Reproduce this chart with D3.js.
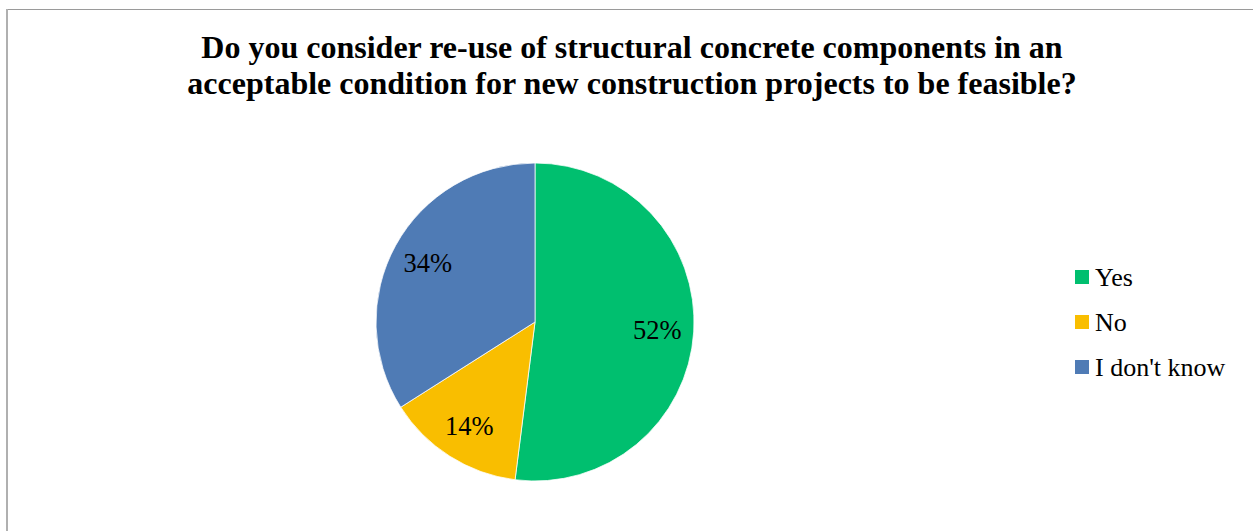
<!DOCTYPE html>
<html>
<head>
<meta charset="utf-8">
<script src="https://cdn.jsdelivr.net/npm/d3@7"></script>
<style>
  body { margin: 0; background: #fff; }
  svg { display: block; font-family: "Liberation Serif", "Times New Roman", serif; }
</style>
</head>
<body>
<div id="chart"></div>
<script>
// chart data
const titleLines = [
    'Do you consider re-use of structural concrete components in an',
    'acceptable condition for new construction projects to be feasible?'
];
const categories = ['Yes', 'No', "I don't know"];
const values = [52, 14, 34];
const colors = ['#00bf6f', '#f9be00', '#4f7bb5'];

const width = 1253;
const height = 531;

const svg = d3.select('#chart')
    .append('svg')
    .attr('width', width)
    .attr('height', height);

// chart area border (only top and left edges are inside the picture)
svg.append('line')
    .attr('x1', 7).attr('x2', width)
    .attr('y1', 9.5).attr('y2', 9.5)
    .attr('stroke', '#9a9a9a')
    .attr('stroke-width', 1);
svg.append('line')
    .attr('x1', 7).attr('x2', 7)
    .attr('y1', 9).attr('y2', height)
    .attr('stroke', '#b0b0b0')
    .attr('stroke-width', 2);

// title
svg.append('text')
    .attr('x', 632)
    .attr('y', 58)
    .attr('text-anchor', 'middle')
    .style('font-weight', 'bold')
    .style('font-size', '32px')
    .selectAll('tspan')
    .data(titleLines)
    .enter()
    .append('tspan')
    .attr('x', 632)
    .attr('dy', (d, i) => i === 0 ? 0 : 35.5)
    .text(d => d);

// pie
const cx = 535, cy = 322, radius = 159;

const pie = d3.pie().sort(null).value(d => d);
const arcs = pie(values);

const arc = d3.arc().innerRadius(0).outerRadius(radius);
const labelArc = d3.arc().innerRadius(radius * 0.77).outerRadius(radius * 0.77);

const g = svg.append('g')
    .attr('transform', `translate(${cx}, ${cy})`);

g.selectAll('.slice')
    .data(arcs)
    .enter()
    .append('path')
    .attr('class', 'slice')
    .attr('d', arc)
    .attr('fill', (d, i) => colors[i])
    .attr('stroke', '#fff')
    .attr('stroke-width', 0.75);

g.selectAll('.pct')
    .data(arcs)
    .enter()
    .append('text')
    .attr('class', 'pct')
    .attr('transform', d => `translate(${labelArc.centroid(d)})`)
    .attr('text-anchor', 'middle')
    .attr('dy', '0.35em')
    .style('font-size', '26.5px')
    .attr('fill', '#000')
    .text(d => d.data + '%');

// legend
const legendY = d3.scalePoint()
    .domain(categories)
    .range([277, 367]);

const legend = svg.selectAll('.legend')
    .data(categories)
    .enter()
    .append('g')
    .attr('class', 'legend')
    .attr('transform', d => `translate(1075, ${legendY(d)})`);

legend.append('rect')
    .attr('x', 0)
    .attr('y', -7)
    .attr('width', 14)
    .attr('height', 14)
    .attr('fill', (d, i) => colors[i]);

legend.append('text')
    .attr('x', 20)
    .attr('dy', '0.33em')
    .style('font-size', '26px')
    .text(d => d);
</script>
</body>
</html>
